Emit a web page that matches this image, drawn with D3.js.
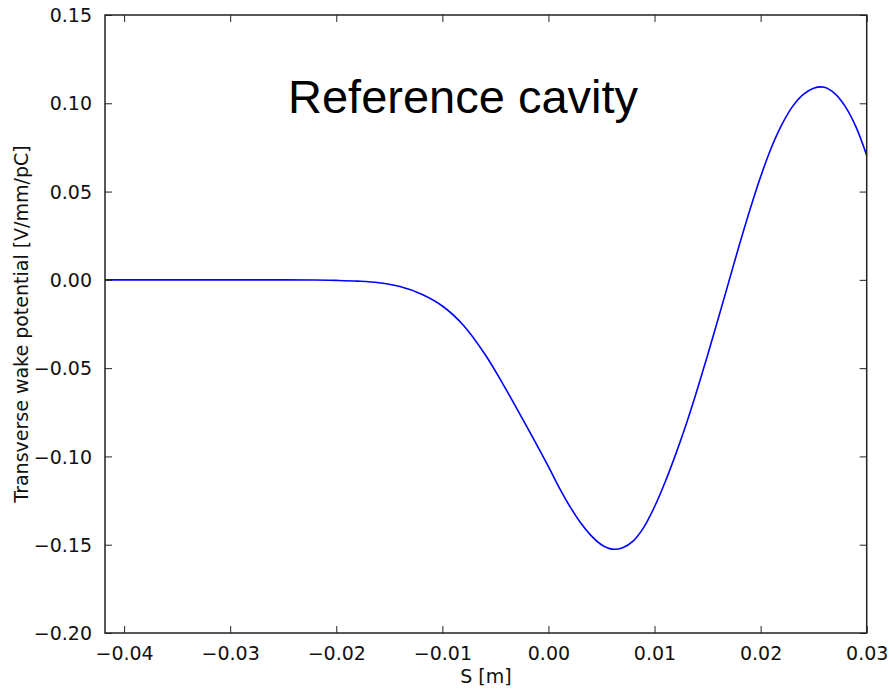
<!DOCTYPE html>
<html><head><meta charset="utf-8">
<script src="https://cdn.jsdelivr.net/npm/d3@7"></script>
<style>html,body{margin:0;padding:0;background:#fff;}</style>
</head><body>
<svg id="chart" width="890" height="689"></svg>
<script>
const sVals = [-0.0418,-0.035,-0.030,-0.025,-0.022,-0.020,-0.018,-0.016,-0.014,-0.012,-0.010,-0.008,-0.006,-0.004,-0.002,0.000,0.001,0.002,0.003,0.004,0.005,0.006,0.007,0.008,0.009,0.010,0.011,0.012,0.013,0.014,0.015,0.016,0.017,0.018,0.019,0.020,0.021,0.022,0.023,0.024,0.025,0.026,0.027,0.028,0.029,0.030];
const wakeVals = [0,0,0,0,-0.0001,-0.0003,-0.0007,-0.0016,-0.0038,-0.0080,-0.0148,-0.0258,-0.0420,-0.0620,-0.0836,-0.1058,-0.1175,-0.1281,-0.1373,-0.1447,-0.1500,-0.1525,-0.1517,-0.1478,-0.1400,-0.1285,-0.1145,-0.0987,-0.0815,-0.0627,-0.0427,-0.0220,-0.0011,0.0199,0.0399,0.0584,0.0747,0.0879,0.0981,0.1049,0.1085,0.1091,0.1055,0.0980,0.0865,0.0705];
const xTicks = [-0.04,-0.03,-0.02,-0.01,0.00,0.01,0.02,0.03];
const yTicks = [0.15,0.10,0.05,0.00,-0.05,-0.10,-0.15,-0.20];
const titleText = "Reference cavity";
const xLabel = "S [m]";
const yLabel = "Transverse wake potential [V/mm/pC]";

const svg = d3.select("#chart");
const L = 105, R = 866.7, T = 15, B = 633;
const x = d3.scaleLinear().domain([-0.0418, 0.03]).range([L, R]);
const y = d3.scaleLinear().domain([-0.20, 0.15]).range([B, T]);
const fmtX = v => (v < 0 ? "\u2212" : "") + Math.abs(v).toFixed(2);
const font = "DejaVu Sans, sans-serif";
const tickLen = 7;

// data line
const data = sVals.map((s,i)=>[s, wakeVals[i]]);
svg.append("path").datum(data)
  .attr("fill","none").attr("stroke","#0000ff").attr("stroke-width",1.6)
  .attr("d", d3.line().x(d=>x(d[0])).y(d=>y(d[1])).curve(d3.curveCatmullRom.alpha(0.5)));

// axes (inward ticks, matplotlib style)
const gB = svg.append("g").attr("transform",`translate(0,${B})`)
  .call(d3.axisBottom(x).tickValues(xTicks).tickSizeInner(-tickLen).tickSizeOuter(0).tickPadding(14).tickFormat(fmtX));
const gT = svg.append("g").attr("transform",`translate(0,${T})`)
  .call(d3.axisTop(x).tickValues(xTicks).tickSizeInner(-tickLen).tickSizeOuter(0).tickFormat(""));
const gL = svg.append("g").attr("transform",`translate(${L},0)`)
  .call(d3.axisLeft(y).tickValues(yTicks).tickSizeInner(-tickLen).tickSizeOuter(0).tickPadding(13).tickFormat(fmtX));
const gR = svg.append("g").attr("transform",`translate(${R},0)`)
  .call(d3.axisRight(y).tickValues(yTicks).tickSizeInner(-tickLen).tickSizeOuter(0).tickFormat(""));
[gB,gT,gL,gR].forEach(g=>{
  g.select(".domain").remove();
  g.selectAll(".tick line").attr("stroke","#222").attr("stroke-width",1);
  g.selectAll(".tick text").attr("font-family",font).attr("font-size",19).attr("fill","#111");
});
gB.selectAll(".tick text").attr("dy","0.71em");
gL.selectAll(".tick text").attr("dy","0.35em");

// frame
svg.append("rect").attr("x",L).attr("y",T).attr("width",R-L).attr("height",B-T)
  .attr("fill","none").attr("stroke","#222").attr("stroke-width",1.5);

// labels
svg.append("text").attr("x",(L+R)/2).attr("y",683).attr("text-anchor","middle")
  .attr("font-family",font).attr("font-size",19).attr("fill","#111").text(xLabel);
svg.append("text").attr("transform",`translate(28,${(T+B)/2}) rotate(-90)`).attr("text-anchor","middle")
  .attr("font-family",font).attr("font-size",19).attr("fill","#111").text(yLabel);
svg.append("text").attr("x",288).attr("y",112.7)
  .attr("font-family","Liberation Sans, Arial, sans-serif").attr("font-size",47).attr("fill","#000").text(titleText);
</script>
</body></html>
